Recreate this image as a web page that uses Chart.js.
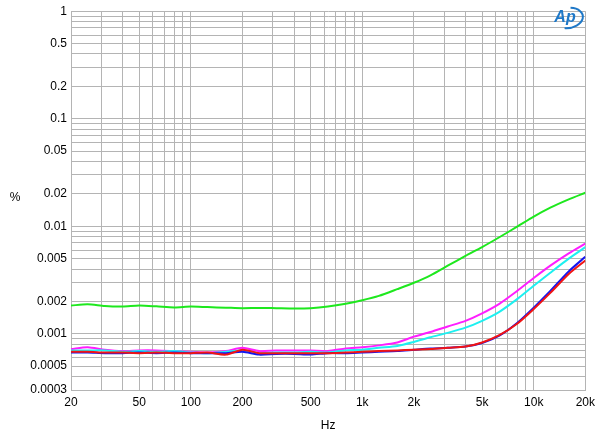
<!DOCTYPE html>
<html>
<head>
<meta charset="utf-8">
<script src="https://cdn.jsdelivr.net/npm/chart.js@4"></script>
<style>
  body { margin: 0; background: #fff; }
  #wrap { width: 600px; height: 441px; }
</style>
</head>
<body>
<div id="wrap"><canvas id="myChart" width="600" height="441"></canvas></div>
<script>
// frequencies (Hz), 1/3 octave
const freqs = [20, 25, 31.5, 40, 50, 63, 80, 100, 125, 160, 200, 250, 315, 400, 500, 630,
  800, 1000, 1250, 1600, 2000, 2500, 3150, 4000, 5000, 6300, 8000, 10000, 12500, 16000, 20000];

// THD+N (%)
const greenVals = [0.00183, 0.00188, 0.00181, 0.00179, 0.00183, 0.0018, 0.00176, 0.00179, 0.00177, 0.00175,
  0.00173, 0.00174, 0.00173, 0.00172, 0.00173, 0.00179, 0.0019, 0.00205, 0.00225, 0.0026, 0.00298,
  0.0035, 0.0043, 0.0053, 0.0064, 0.0079, 0.0099, 0.0123, 0.0149, 0.0178, 0.0205];
const magentaVals = [0.00072, 0.00075, 0.00071, 0.00069, 0.0007, 0.0007, 0.00069, 0.00068, 0.00067, 0.00069,
  0.00074, 0.00069, 0.0007, 0.0007, 0.0007, 0.00069, 0.00073, 0.00075, 0.00078, 0.00083, 0.00094,
  0.00104, 0.00117, 0.00132, 0.00155, 0.0019, 0.0025, 0.0033, 0.0043, 0.0056, 0.0069];
const cyanVals = [0.0007, 0.0007, 0.0007, 0.00068, 0.00069, 0.00068, 0.00069, 0.00067, 0.00066, 0.00068,
  0.0007, 0.00066, 0.00067, 0.00067, 0.00068, 0.00067, 0.0007, 0.00071, 0.00074, 0.00077, 0.00084,
  0.00093, 0.00102, 0.00114, 0.00132, 0.0016, 0.0021, 0.0028, 0.0037, 0.005, 0.0064];
const blueVals = [0.00067, 0.00067, 0.00066, 0.00066, 0.00067, 0.00066, 0.00067, 0.00066, 0.00066, 0.00066,
  0.00068, 0.00064, 0.00065, 0.00065, 0.00064, 0.00066, 0.00066, 0.00067, 0.00068, 0.00069, 0.00071,
  0.00073, 0.00074, 0.00076, 0.00082, 0.00096, 0.00126, 0.00175, 0.0025, 0.0038, 0.0052];
const redVals = [0.00068, 0.00068, 0.00067, 0.00067, 0.00066, 0.00067, 0.00066, 0.00066, 0.00067, 0.00064,
  0.00071, 0.00066, 0.00066, 0.00066, 0.00066, 0.00066, 0.00067, 0.00068, 0.00069, 0.0007, 0.00071,
  0.00072, 0.00074, 0.00076, 0.00083, 0.00097, 0.00124, 0.0017, 0.0024, 0.0036, 0.0048];

// axis ticks
const xLabels = { 20: '20', 50: '50', 100: '100', 200: '200', 500: '500', 1000: '1k',
  2000: '2k', 5000: '5k', 10000: '10k', 20000: '20k' };
const yLabels = { 1: '1', 0.5: '0.5', 0.2: '0.2', 0.1: '0.1', 0.05: '0.05', 0.02: '0.02',
  0.01: '0.01', 0.005: '0.005', 0.002: '0.002', 0.001: '0.001', 0.0005: '0.0005', 0.0003: '0.0003' };

// grid positions 1..9 per decade
function decadeSteps(lo, hi) {
  const out = [];
  for (let d = Math.floor(Math.log10(lo)); d <= Math.ceil(Math.log10(hi)); d++) {
    for (let m = 1; m < 10; m++) {
      const v = parseFloat((m * Math.pow(10, d)).toPrecision(6));
      if (v >= lo * 0.999 && v <= hi * 1.001) out.push(v);
    }
  }
  return out;
}
const xGrid = decadeSteps(20, 20000);
const yGrid = decadeSteps(0.0003, 1);

// first in list is drawn on top
const series = [
  { label: 'red', data: redVals, color: '#f01414' },
  { label: 'blue', data: blueVals, color: '#1414f0' },
  { label: 'cyan', data: cyanVals, color: '#1ef0f0' },
  { label: 'magenta', data: magentaVals, color: '#ff1eff' },
  { label: 'green', data: greenVals, color: '#1ee81e' },
];

const extras = {
  id: 'extras',
  afterDraw(chart) {
    const c = chart.ctx;
    c.save();
    c.fillStyle = '#000';
    c.font = '12px "Liberation Sans", Arial, sans-serif';
    c.textAlign = 'center';
    c.textBaseline = 'middle';
    c.fillText('%', 15, 198);
    // Ap logo
    c.strokeStyle = '#1e78c8';
    c.fillStyle = '#1e78c8';
    c.lineWidth = 2;
    c.beginPath();
    c.ellipse(568, 18, 15, 10, -0.15, -1.3, 1.9);
    c.stroke();
    c.font = 'italic bold 16px "Liberation Sans", Arial, sans-serif';
    c.fillText('Ap', 565, 18);
    c.restore();
  },
};

const gridColor = '#b4b4b4';

new Chart(document.getElementById('myChart'), {
  type: 'line',
  data: {
    datasets: series.map((s) => ({
      label: s.label,
      data: freqs.map((f, i) => ({ x: f, y: s.data[i] })),
      borderColor: s.color,
      borderWidth: 2,
      pointRadius: 0,
      tension: 0.25,
      fill: false,
    })),
  },
  options: {
    responsive: false,
    devicePixelRatio: 1,
    animation: false,
    layout: { padding: { top: 6, right: 13, left: 0, bottom: 8 } },
    plugins: { legend: { display: false }, tooltip: { enabled: false } },
    scales: {
      x: {
        type: 'logarithmic',
        min: 20,
        max: 20000,
        afterBuildTicks: (scale) => { scale.ticks = xGrid.map((v) => ({ value: v })); },
        afterFit: (scale) => { scale.height = 43; },
        ticks: {
          autoSkip: false,
          maxRotation: 0,
          padding: 5,
          color: '#000',
          font: { size: 12, family: '"Liberation Sans", Arial, sans-serif' },
          callback: (v) => xLabels[v] || '',
        },
        grid: { color: gridColor, drawTicks: false },
        border: { color: gridColor },
        title: {
          display: true,
          text: 'Hz',
          color: '#000',
          font: { size: 12, family: '"Liberation Sans", Arial, sans-serif' },
          padding: { top: 4, bottom: 0 },
        },
      },
      y: {
        type: 'logarithmic',
        min: 0.0003,
        max: 1,
        afterBuildTicks: (scale) => { scale.ticks = yGrid.map((v) => ({ value: v })); },
        afterFit: (scale) => { scale.width = 71; },
        ticks: {
          autoSkip: false,
          padding: 4,
          color: '#000',
          font: { size: 12, family: '"Liberation Sans", Arial, sans-serif' },
          callback: (v) => yLabels[v] || '',
        },
        grid: { color: gridColor, drawTicks: false },
        border: { color: gridColor },
      },
    },
  },
  plugins: [extras],
});
</script>
</body>
</html>
